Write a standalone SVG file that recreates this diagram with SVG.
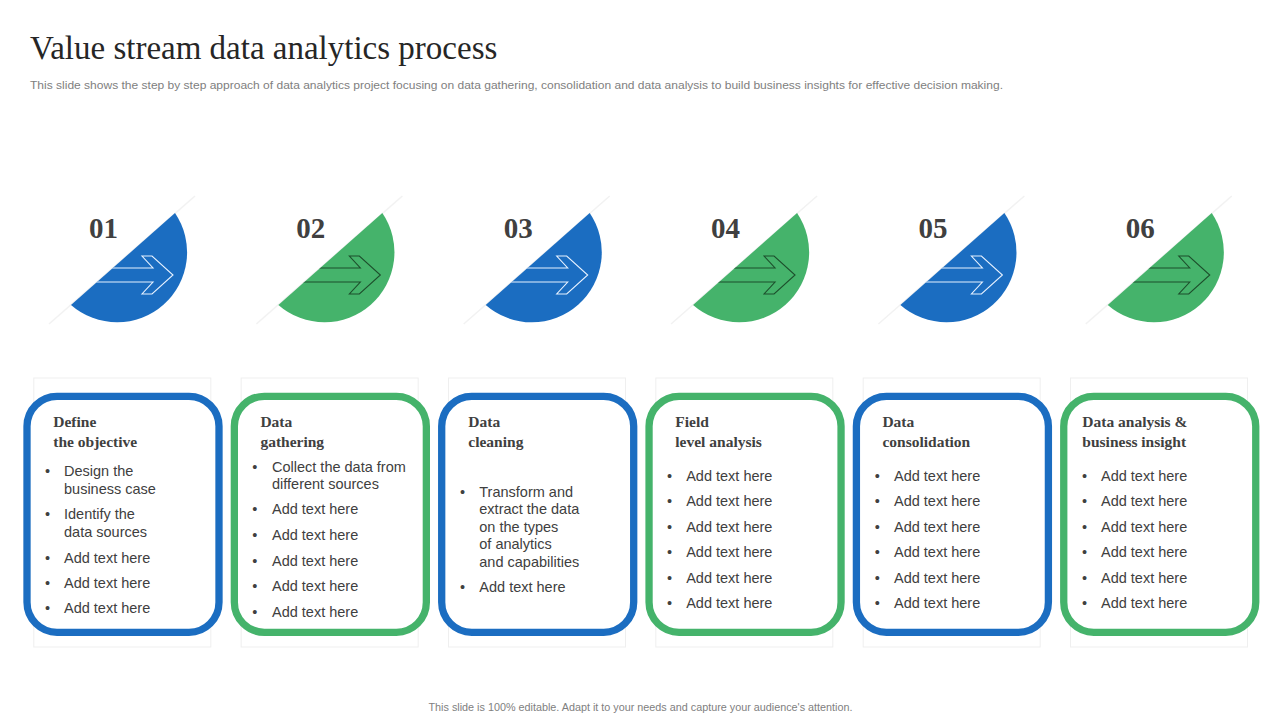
<svg xmlns="http://www.w3.org/2000/svg" width="1280" height="720" viewBox="0 0 1280 720">
<style>
.title{font-family:"Liberation Serif","Times New Roman",serif;font-size:33px;fill:#262626}
.sub{font-family:"Liberation Sans",Arial,sans-serif;font-size:11px;fill:#808080}
.foot{font-family:"Liberation Sans",Arial,sans-serif;font-size:10.8px;fill:#808080}
.num{font-family:"Liberation Serif","Times New Roman",serif;font-size:29px;font-weight:bold;fill:#404040}
.head{font-family:"Liberation Serif","Times New Roman",serif;font-size:15.5px;font-weight:bold;fill:#404040}
.txt{font-family:"Liberation Sans",Arial,sans-serif;font-size:14.5px;fill:#404040}
.bul{font-family:"Liberation Sans",Arial,sans-serif;font-size:14.5px;fill:#404040;text-anchor:middle}
.bg{fill:#ffffff;stroke:#efefef;stroke-width:1}
.frame{fill:#ffffff;stroke-width:7.3}
.fb{stroke:#1b6dc1}
.fg{stroke:#45b36b}
.pb{fill:#1b6dc1}
.pg{fill:#45b36b}
.arrow{fill:none;stroke-width:1.1;stroke-linejoin:miter}
.ab{stroke:#e6f1ff}
.ag{stroke:#1d4f2c}
.shade{stroke:#f2f2f2;stroke-width:1.5;fill:none}
</style>
<defs>
<clipPath id="pieClip" clipPathUnits="userSpaceOnUse"><path d="M58,-39 A70 70 0 0 1 -46,53 Z"/></clipPath>
</defs>
<rect width="1280" height="720" fill="#ffffff"/>
<text class="title" x="30" y="59">Value stream data analytics process</text>
<text class="sub" x="30" y="89" textLength="973" lengthAdjust="spacingAndGlyphs">This slide shows the step by step approach of data analytics project focusing on data gathering, consolidation and data analysis to build business insights for effective decision making.</text>

<g id="connectors"></g>

<g id="step1">
<g transform="translate(117,252)">
<line class="shade" x1="78" y1="-56" x2="-68" y2="72"/>
<path class="pb" d="M58,-39 A70 70 0 0 1 -46,53 Z"/>
<path class="arrow ab" clip-path="url(#pieClip)" d="M-80,16 L36,16 L25,4 L35,4 L56,23 L35,42 L25,42 L36,30 L-80,30"/>
</g>
<text class="num" x="89" y="238">01</text>
<rect class="bg" x="33.8" y="378" width="177" height="269"/>
<rect class="frame fb" x="27" y="396.3" width="192" height="236" rx="30"/>
<text class="head" x="53.3" y="426.7">Define</text>
<text class="head" x="53.3" y="446.7">the objective</text>
<text class="bul" x="47.5" y="476">•</text><text class="txt" x="64" y="476">Design the</text>
<text class="txt" x="64" y="494">business case</text>
<text class="bul" x="47.5" y="519">•</text><text class="txt" x="64" y="519">Identify the</text>
<text class="txt" x="64" y="537">data sources</text>
<text class="bul" x="47.5" y="563">•</text><text class="txt" x="64" y="563">Add text here</text>
<text class="bul" x="47.5" y="588">•</text><text class="txt" x="64" y="588">Add text here</text>
<text class="bul" x="47.5" y="613">•</text><text class="txt" x="64" y="613">Add text here</text>
</g>

<g id="step2">
<g transform="translate(324.35,252)">
<line class="shade" x1="78" y1="-56" x2="-68" y2="72"/>
<path class="pg" d="M58,-39 A70 70 0 0 1 -46,53 Z"/>
<path class="arrow ag" clip-path="url(#pieClip)" d="M-80,16 L36,16 L25,4 L35,4 L56,23 L35,42 L25,42 L36,30 L-80,30"/>
</g>
<text class="num" x="296.35" y="238">02</text>
<rect class="bg" x="241.15" y="378" width="177" height="269"/>
<rect class="frame fg" x="234.35" y="396.3" width="192" height="236" rx="30"/>
<text class="head" x="260.4" y="426.7">Data</text>
<text class="head" x="260.4" y="446.7">gathering</text>
<text class="bul" x="254.9" y="471.5">•</text><text class="txt" x="272" y="471.5">Collect the data from</text>
<text class="txt" x="272" y="489">different sources</text>
<text class="bul" x="254.9" y="514">•</text><text class="txt" x="272" y="514">Add text here</text>
<text class="bul" x="254.9" y="540">•</text><text class="txt" x="272" y="540">Add text here</text>
<text class="bul" x="254.9" y="566">•</text><text class="txt" x="272" y="566">Add text here</text>
<text class="bul" x="254.9" y="591">•</text><text class="txt" x="272" y="591">Add text here</text>
<text class="bul" x="254.9" y="617">•</text><text class="txt" x="272" y="617">Add text here</text>
</g>

<g id="step3">
<g transform="translate(531.7,252)">
<line class="shade" x1="78" y1="-56" x2="-68" y2="72"/>
<path class="pb" d="M58,-39 A70 70 0 0 1 -46,53 Z"/>
<path class="arrow ab" clip-path="url(#pieClip)" d="M-80,16 L36,16 L25,4 L35,4 L56,23 L35,42 L25,42 L36,30 L-80,30"/>
</g>
<text class="num" x="503.7" y="238">03</text>
<rect class="bg" x="448.5" y="378" width="177" height="269"/>
<rect class="frame fb" x="441.7" y="396.3" width="192" height="236" rx="30"/>
<text class="head" x="468.3" y="426.7">Data</text>
<text class="head" x="468.3" y="446.7">cleaning</text>
<text class="bul" x="462.5" y="496.5">•</text><text class="txt" x="479.3" y="496.5">Transform and</text>
<text class="txt" x="479.3" y="514.3">extract the data</text>
<text class="txt" x="479.3" y="531.8">on the types</text>
<text class="txt" x="479.3" y="549.3">of analytics</text>
<text class="txt" x="479.3" y="567.2">and capabilities</text>
<text class="bul" x="462.5" y="592.3">•</text><text class="txt" x="479.3" y="592.3">Add text here</text>
</g>

<g id="step4">
<g transform="translate(739.05,252)">
<line class="shade" x1="78" y1="-56" x2="-68" y2="72"/>
<path class="pg" d="M58,-39 A70 70 0 0 1 -46,53 Z"/>
<path class="arrow ag" clip-path="url(#pieClip)" d="M-80,16 L36,16 L25,4 L35,4 L56,23 L35,42 L25,42 L36,30 L-80,30"/>
</g>
<text class="num" x="711.05" y="238">04</text>
<rect class="bg" x="655.85" y="378" width="177" height="269"/>
<rect class="frame fg" x="649.05" y="396.3" width="192" height="236" rx="30"/>
<text class="head" x="675.3" y="426.7">Field</text>
<text class="head" x="675.3" y="446.7">level analysis</text>
<text class="bul" x="669.6" y="480.7">•</text><text class="txt" x="686.2" y="480.7">Add text here</text>
<text class="bul" x="669.6" y="506.3">•</text><text class="txt" x="686.2" y="506.3">Add text here</text>
<text class="bul" x="669.6" y="531.5">•</text><text class="txt" x="686.2" y="531.5">Add text here</text>
<text class="bul" x="669.6" y="557.3">•</text><text class="txt" x="686.2" y="557.3">Add text here</text>
<text class="bul" x="669.6" y="583">•</text><text class="txt" x="686.2" y="583">Add text here</text>
<text class="bul" x="669.6" y="608.3">•</text><text class="txt" x="686.2" y="608.3">Add text here</text>
</g>

<g id="step5">
<g transform="translate(946.4,252)">
<line class="shade" x1="78" y1="-56" x2="-68" y2="72"/>
<path class="pb" d="M58,-39 A70 70 0 0 1 -46,53 Z"/>
<path class="arrow ab" clip-path="url(#pieClip)" d="M-80,16 L36,16 L25,4 L35,4 L56,23 L35,42 L25,42 L36,30 L-80,30"/>
</g>
<text class="num" x="918.4" y="238">05</text>
<rect class="bg" x="863.2" y="378" width="177" height="269"/>
<rect class="frame fb" x="856.4" y="396.3" width="192" height="236" rx="30"/>
<text class="head" x="882.4" y="426.7">Data</text>
<text class="head" x="882.4" y="446.7">consolidation</text>
<text class="bul" x="877.4" y="480.7">•</text><text class="txt" x="894" y="480.7">Add text here</text>
<text class="bul" x="877.4" y="506.3">•</text><text class="txt" x="894" y="506.3">Add text here</text>
<text class="bul" x="877.4" y="531.5">•</text><text class="txt" x="894" y="531.5">Add text here</text>
<text class="bul" x="877.4" y="557.3">•</text><text class="txt" x="894" y="557.3">Add text here</text>
<text class="bul" x="877.4" y="583">•</text><text class="txt" x="894" y="583">Add text here</text>
<text class="bul" x="877.4" y="608.3">•</text><text class="txt" x="894" y="608.3">Add text here</text>
</g>

<g id="step6">
<g transform="translate(1153.75,252)">
<line class="shade" x1="78" y1="-56" x2="-68" y2="72"/>
<path class="pg" d="M58,-39 A70 70 0 0 1 -46,53 Z"/>
<path class="arrow ag" clip-path="url(#pieClip)" d="M-80,16 L36,16 L25,4 L35,4 L56,23 L35,42 L25,42 L36,30 L-80,30"/>
</g>
<text class="num" x="1125.75" y="238">06</text>
<rect class="bg" x="1070.55" y="378" width="177" height="269"/>
<rect class="frame fg" x="1063.75" y="396.3" width="192" height="236" rx="30"/>
<text class="head" x="1082.3" y="426.7">Data analysis &amp;</text>
<text class="head" x="1082.3" y="446.7">business insight</text>
<text class="bul" x="1084.5" y="480.7">•</text><text class="txt" x="1101" y="480.7">Add text here</text>
<text class="bul" x="1084.5" y="506.3">•</text><text class="txt" x="1101" y="506.3">Add text here</text>
<text class="bul" x="1084.5" y="531.5">•</text><text class="txt" x="1101" y="531.5">Add text here</text>
<text class="bul" x="1084.5" y="557.3">•</text><text class="txt" x="1101" y="557.3">Add text here</text>
<text class="bul" x="1084.5" y="583">•</text><text class="txt" x="1101" y="583">Add text here</text>
<text class="bul" x="1084.5" y="608.3">•</text><text class="txt" x="1101" y="608.3">Add text here</text>
</g>

<text class="foot" x="640.5" y="711" text-anchor="middle">This slide is 100% editable.  Adapt it to your needs and capture your audience's attention.</text>
</svg>
